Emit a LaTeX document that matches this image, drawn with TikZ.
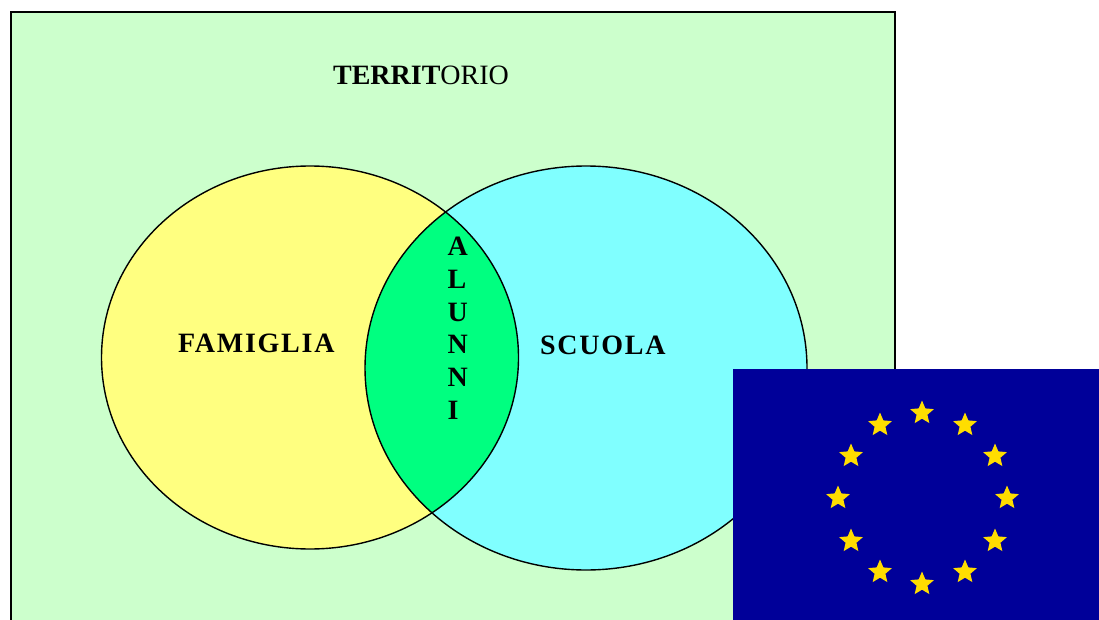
\documentclass[tikz,border=0pt]{standalone}
\usepackage{fontspec}
\setmainfont{Liberation Serif}
\usetikzlibrary{shapes.geometric}
\definecolor{terr}{HTML}{CCFFCC}
\definecolor{fam}{HTML}{FFFF80}
\definecolor{scu}{HTML}{80FFFF}
\definecolor{alu}{HTML}{00FF80}
\definecolor{flagblue}{HTML}{000099}
\definecolor{flagstar}{HTML}{FFDD00}
\newfontfamily\spaced[LetterSpace=6.2]{Liberation Serif}
\tikzset{
  outline/.style={draw=black,line width=1.4pt},
  labeltext/.style={inner sep=0pt,text=black,font=\fontsize{28}{32.7}\selectfont},
  eustar/.style={star,star points=5,star point ratio=2.2,fill=flagstar,minimum size=25pt,inner sep=0pt,draw=none}
}
\begin{document}
\begin{tikzpicture}[x=1pt,y=-1pt]
\useasboundingbox (0,0) rectangle (1099,620);
\fill[white] (0,0) rectangle (1099,620);
% territory
\fill[terr] (11,12) rectangle (895,620);
\draw[outline,line cap=butt] (11,620) -- (11,12) -- (895,12) -- (895,620);
% sets
\path[fill=fam] (310,357.5) ellipse [x radius=208.5,y radius=191.5];
\path[fill=scu] (586,368) ellipse [x radius=221,y radius=202];
\begin{scope}
  \clip (310,357.5) ellipse [x radius=208.5,y radius=191.5];
  \fill[alu] (586,368) ellipse [x radius=221,y radius=202];
\end{scope}
\draw[outline] (310,357.5) ellipse [x radius=208.5,y radius=191.5];
\draw[outline] (586,368) ellipse [x radius=221,y radius=202];
% labels
\node[labeltext,anchor=base] (territorio) at (421,85) {\textbf{TERRIT}ORIO};
\node[labeltext,anchor=base west] (famiglia) at (178,352) {\bfseries\spaced FAMIGLIA};
\node[labeltext,anchor=base west] (scuola) at (540,354) {\bfseries\spaced SCUOLA};
\node[labeltext,anchor=north west,align=left] (alunni) at (447.5,237)
  {\bfseries A\\\bfseries L\\\bfseries U\\\bfseries N\\\bfseries N\\\bfseries I};
% flag
\fill[flagblue] (733,369) rectangle (1099,620);
\foreach \n/\px/\py in {a/922/413,b/965/425,c/995/456,d/1007/498,e/995/541,f/965/572,g/922/584,h/880/572,i/851/541,j/838/498,k/851/456,l/880/425}
  \node[eustar] (star\n) at (\px,\py) {};
\end{tikzpicture}
\end{document}
